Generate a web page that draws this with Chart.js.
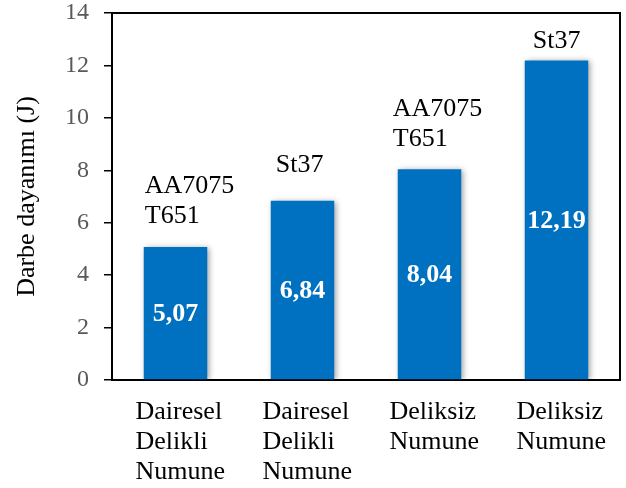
<!DOCTYPE html>
<html>
<head>
<meta charset="utf-8">
<script src="https://cdn.jsdelivr.net/npm/chart.js@4/dist/chart.umd.min.js"></script>
<style>
  html, body { margin: 0; padding: 0; background: #ffffff; }
  #wrap { width: 626px; height: 488px; }
</style>
</head>
<body>
<div id="wrap"><canvas id="c" width="626" height="488"></canvas></div>
<script>
// Specimen types along the x axis (one array per printed line)
const categories = [
  ['Dairesel', 'Delikli', 'Numune'],
  ['Dairesel', 'Delikli', 'Numune'],
  ['Deliksiz', 'Numune'],
  ['Deliksiz', 'Numune']
];
// Material of each specimen, printed above its bar
const materials = [
  ['AA7075', 'T651'],
  ['St37'],
  ['AA7075', 'T651'],
  ['St37']
];
// Impact strength in joules
const impactStrength = [5.07, 6.84, 8.04, 12.19];
const yTicks = [0, 2, 4, 6, 8, 10, 12, 14];

const SERIF = "'Liberation Serif', 'Times New Roman', serif";
const BAR_BLUE = '#0070C0';

// Horizontal nudge of each category label block (left-aligned lines)
const labelShift = [-40, -40, -41, -33];

// Soft drop shadow under the bars
const barShadow = {
  id: 'barShadow',
  beforeDatasetDraw(chart) {
    const ctx = chart.ctx;
    ctx.save();
    ctx.shadowColor = 'rgba(0,0,0,0.38)';
    ctx.shadowBlur = 6;
    ctx.shadowOffsetX = 2;
    ctx.shadowOffsetY = 1;
  },
  afterDatasetDraw(chart) {
    chart.ctx.restore();
  }
};

// Frame on the top and right sides of the plot area
const plotFrame = {
  id: 'plotFrame',
  afterDatasetsDraw(chart) {
    const { ctx, chartArea: a } = chart;
    ctx.save();
    ctx.strokeStyle = '#000000';
    ctx.lineWidth = 2;
    ctx.beginPath();
    ctx.moveTo(a.left, a.top);
    ctx.lineTo(a.right, a.top);
    ctx.lineTo(a.right, a.bottom);
    ctx.stroke();
    ctx.restore();
  }
};

// Value inside each bar and material name above it
const barTexts = {
  id: 'barTexts',
  afterDatasetsDraw(chart, args, opts) {
    const ctx = chart.ctx;
    const meta = chart.getDatasetMeta(0);
    const yScale = chart.scales.y;
    ctx.save();
    meta.data.forEach((bar, i) => {
      const v = impactStrength[i];
      const top = yScale.getPixelForValue(v);
      const base = yScale.getPixelForValue(0);
      const half = bar.width / 2;

      // value, centred in the bar
      ctx.fillStyle = '#ffffff';
      ctx.font = 'bold 26px ' + SERIF;
      ctx.textAlign = 'center';
      ctx.textBaseline = 'middle';
      ctx.fillText(v.toFixed(2).replace('.', ','), bar.x, (top + base) / 2 + 1);

      // material label above the bar
      const place = opts.placement[i];
      const lines = materials[i];
      ctx.fillStyle = '#000000';
      ctx.font = '26px ' + SERIF;
      ctx.textAlign = 'left';
      ctx.textBaseline = 'alphabetic';
      const left = bar.x - half + place.dx;
      lines.forEach((line, k) => {
        const y = top - place.gap - (lines.length - 1 - k) * 30;
        ctx.fillText(line, left, y);
      });
    });
    ctx.restore();
  }
};

new Chart(document.getElementById('c'), {
  type: 'bar',
  data: {
    labels: categories,
    datasets: [{
      data: impactStrength,
      backgroundColor: BAR_BLUE,
      borderWidth: 0,
      barPercentage: 0.5,
      categoryPercentage: 1.0
    }]
  },
  plugins: [barShadow, plotFrame, barTexts],
  options: {
    responsive: false,
    animation: false,
    events: [],
    layout: { padding: { top: 13, right: 6, left: 0, bottom: 0 } },
    plugins: {
      legend: { display: false },
      tooltip: { enabled: false },
      barTexts: {
        placement: [
          { dx: 1, gap: 24 },
          { dx: 5, gap: 29 },
          { dx: -5, gap: 23 },
          { dx: 8, gap: 12 }
        ]
      }
    },
    scales: {
      x: {
        grid: { display: false, drawTicks: false },
        border: { display: true, color: '#000000', width: 2 },
        ticks: {
          color: '#000000',
          font: { family: SERIF, size: 26, lineHeight: 1.154 },
          align: 'start',
          labelOffset: (ctx) => labelShift[ctx.index] ?? -40,
          padding: 17,
          maxRotation: 0,
          autoSkip: false
        },
        afterFit(scale) {
          scale.height = 108;
          scale.paddingLeft = 0;
          scale.paddingRight = 0;
        }
      },
      y: {
        min: 0,
        max: 14,
        afterBuildTicks(scale) {
          scale.ticks = yTicks.map(v => ({ value: v }));
        },
        grid: {
          display: true,
          drawOnChartArea: false,
          drawTicks: true,
          tickLength: 8,
          color: '#000000',
          lineWidth: 1.5
        },
        border: { display: true, color: '#000000', width: 2 },
        ticks: {
          color: '#595959',
          font: { family: SERIF, size: 24 },
          padding: 15
        },
        title: {
          display: true,
          text: 'Darbe dayanımı (J)',
          color: '#000000',
          font: { family: SERIF, size: 26, lineHeight: 1.2 },
          padding: { top: 12, bottom: 0 }
        },
        afterFit(scale) {
          scale.width = 112;
          scale.paddingTop = 0;
          scale.paddingBottom = 0;
        }
      }
    }
  }
});
</script>
</body>
</html>
